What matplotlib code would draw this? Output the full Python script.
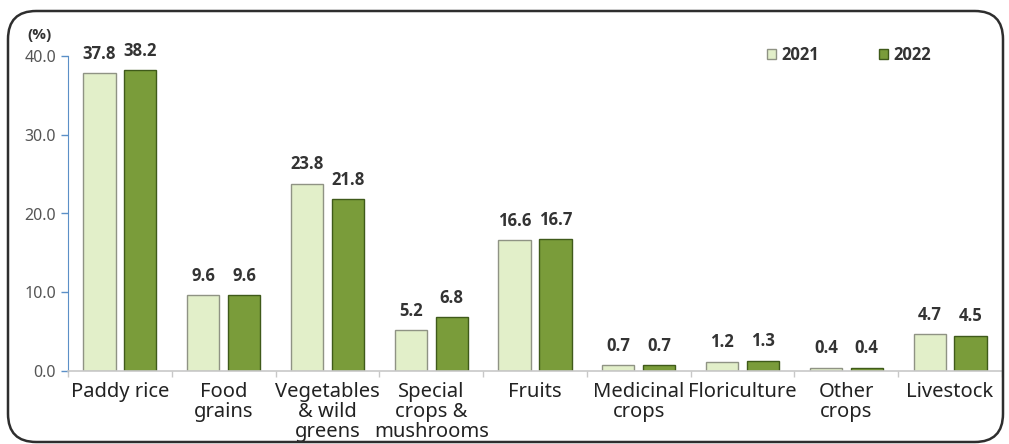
import numpy as np
import matplotlib
matplotlib.use("Agg")
import matplotlib.pyplot as plt
from matplotlib.patches import FancyBboxPatch

categories = ["Paddy rice", "Food\ngrains", "Vegetables\n& wild\ngreens", "Special\ncrops &\nmushrooms",
              "Fruits", "Medicinal\ncrops", "Floriculture", "Other\ncrops", "Livestock"]
vals_2021 = [37.8, 9.6, 23.8, 5.2, 16.6, 0.7, 1.2, 0.4, 4.7]
vals_2022 = [38.2, 9.6, 21.8, 6.8, 16.7, 0.7, 1.3, 0.4, 4.5]
series = ["2021", "2022"]
yticks = [0, 10, 20, 30, 40]

plt.rcParams['font.family'] = ['Noto Sans', 'DejaVu Sans']

fig = plt.figure(figsize=(10.09, 4.44), dpi=100)

# rounded frame around the chart
box = FancyBboxPatch((8 / 1009, 2 / 444), 995 / 1009, 431 / 444,
                     boxstyle="round,pad=0,rounding_size=0.028",
                     transform=fig.transFigure, fill=False, ec='#2e2e2e', lw=1.8,
                     mutation_aspect=1009 / 444)
fig.patches.append(box)

ax = fig.add_axes([68 / 1009, 1 - 371 / 444, 934 / 1009, (371 - 56) / 444])
x = np.arange(len(categories))
w = 0.31
off = 0.197

b1 = ax.bar(x - off, vals_2021, w, color='#e2efc9', edgecolor='#8f9384', lw=1.0, label=series[0])
b2 = ax.bar(x + off, vals_2022, w, color='#7a9c3a', edgecolor='#3f5a1a', lw=1.0, label=series[1])

for bars, vals in [(b1, vals_2021), (b2, vals_2022)]:
    for r, v in zip(bars, vals):
        ax.annotate(f"{v:.1f}", (r.get_x() + r.get_width() / 2, v), xytext=(0, 14),
                    textcoords='offset points', ha='center', va='center',
                    fontsize=12, fontweight='bold', color='#333333', family='Open Sans')

ax.set_xlim(-0.5, len(categories) - 0.5)
ax.set_ylim(0, 40)
ax.set_yticks(yticks)
ax.set_yticklabels([f"{t:.1f}" for t in yticks], fontsize=11.5, color='#555555')
ax.tick_params(axis='y', colors='#5b8fc7', labelcolor='#555555', length=5, width=1)

ax.set_xticks(x)
ax.set_xticklabels(categories, fontsize=14.5, color='#222222', linespacing=1.0)
ax.tick_params(axis='x', length=0, pad=8)
ax.set_xticks(np.arange(-0.5, len(categories)), minor=True)
ax.tick_params(axis='x', which='minor', length=4, color='#c8c8c8', width=1)

for s in ['top', 'right']:
    ax.spines[s].set_visible(False)
ax.spines['left'].set_color('#5b8fc7')
ax.spines['bottom'].set_color('#c8c8c8')
ax.spines['bottom'].set_linewidth(1.2)

fig.text(39 / 1009, 1 - 35 / 444, "(%)", fontsize=11, color='#333333', ha='center', va='center',
         fontweight='bold', family='Open Sans')

leg = ax.legend(loc='upper right', bbox_to_anchor=(0.94, 1.08), ncol=2, frameon=False,
                fontsize=12, handlelength=0.55, handleheight=0.55, columnspacing=3.6,
                handletextpad=0.3)
for t in leg.get_texts():
    t.set_color('#333333')
    t.set_fontweight('bold')
    t.set_family('Open Sans')

fig.savefig("out.png", dpi=100)
